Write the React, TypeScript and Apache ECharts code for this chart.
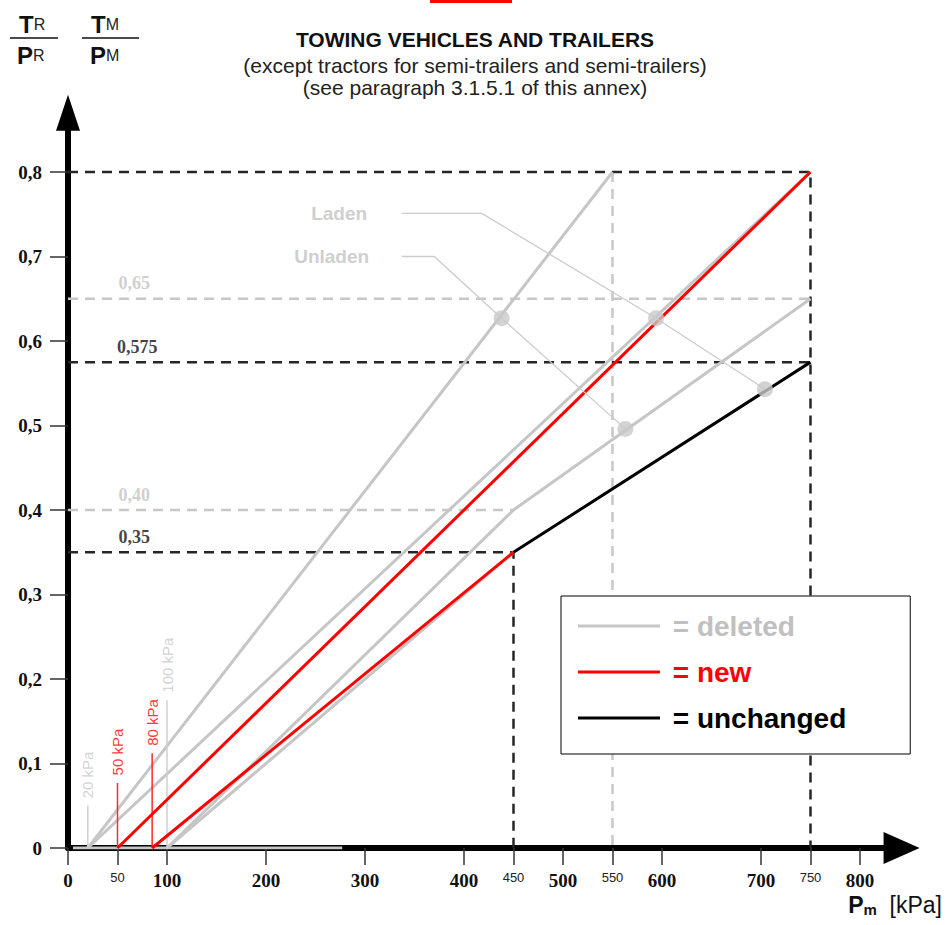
import React, { useEffect, useRef } from 'react';
import * as echarts from 'echarts';

// ---------- data ----------
const X_MAX = 842;
const Y_MAX = 0.87;
const yTicks = [0, 0.1, 0.2, 0.3, 0.4, 0.5, 0.6, 0.7, 0.8];
const xTicks = [0, 50, 100, 200, 300, 400, 450, 500, 550, 600, 700, 750, 800];
const minorXTicks = [50, 450, 550, 750];

const deletedLines = [
  [[20, 0], [550, 0.8]],
  [[20, 0], [750, 0.8]],
  [[100, 0], [450, 0.4], [750, 0.65]],
  [[100, 0], [450, 0.35]],
  [[5, 0], [277, 0]],
];
const newLines = [
  [[50, 0], [750, 0.8]],
  [[85, 0], [450, 0.35]],
];
const unchangedLines = [
  [[450, 0.35], [750, 0.575]],
];
const blackGuides = [
  [[0, 0.8], [750, 0.8], [750, 0]],
  [[0, 0.575], [750, 0.575]],
  [[0, 0.35], [450, 0.35], [450, 0]],
];
const grayGuides = [
  [[0, 0.65], [750, 0.65]],
  [[0, 0.4], [450, 0.4]],
  [[550, 0.8], [550, 0]],
];
const kpaMarks = [
  { x: 20, top: 0.05, label: '20 kPa', kind: 'deleted' },
  { x: 50, top: 0.077, label: '50 kPa', kind: 'new' },
  { x: 85, top: 0.112, label: '80 kPa', kind: 'new' },
  { x: 100, top: 0.175, label: '100 kPa', kind: 'deleted' },
];
const levelLabels = [
  { text: '0,65', x: 67, y: 0.65, kind: 'deleted' },
  { text: '0,575', x: 70, y: 0.575, kind: 'unchanged' },
  { text: '0,40', x: 67, y: 0.4, kind: 'deleted' },
  { text: '0,35', x: 67, y: 0.35, kind: 'unchanged' },
];
const ladenPath = [[337, 0.751], [418, 0.751], [594, 0.627], [704, 0.543]];
const unladenPath = [[337, 0.7], [370, 0.7], [438, 0.627], [563, 0.496]];
const ladenDots = [[594, 0.627], [704, 0.543]];
const unladenDots = [[438, 0.627], [563, 0.496]];
const legendNames = ['= deleted', '= new', '= unchanged'];

// ---------- styles ----------
const GRAY = '#c6c6c6';
const GRAY_TXT = '#c2c2c2';
const RED = '#ff0000';
const BLACK = '#000000';
const SANS = '"Liberation Sans", Arial, sans-serif';
const SERIF = '"Liberation Serif", "Times New Roman", serif';

function lineSeries(name: string, pts: number[][], color: string, width: number, dashed = false, z = 2) {
  return {
    type: 'line',
    name,
    data: pts,
    symbol: 'none',
    silent: true,
    z,
    itemStyle: { color },
    lineStyle: { color, width, type: dashed ? [10, 7] : 'solid' },
  };
}

const fracRich = {
  b: { fontFamily: SANS, fontSize: 24, fontWeight: 'bold', fill: '#111' },
  s: { fontFamily: SANS, fontSize: 16, fill: '#222' },
};

export default function App() {
  const ref = useRef<HTMLDivElement>(null);
  useEffect(() => {
    if (!ref.current) return;
    const chart = echarts.init(ref.current, undefined, { renderer: 'svg' });
    const series: any[] = [];
    grayGuides.forEach((g) => series.push(lineSeries('guide-gray', g, '#c8c8c8', 2.5, true, 1)));
    blackGuides.forEach((g) => series.push(lineSeries('guide-black', g, '#262626', 2.5, true, 1)));
    deletedLines.forEach((l) => series.push(lineSeries('= deleted', l, GRAY, 3, false, 2)));
    kpaMarks.forEach((m) =>
      series.push(lineSeries('kpa-' + m.label, [[m.x, 0], [m.x, m.top]], m.kind === 'new' ? '#ff2a2a' : '#cfcfcf', 1.5, false, 2))
    );
    newLines.forEach((l) => series.push(lineSeries('= new', l, RED, 3, false, 3)));
    unchangedLines.forEach((l) => series.push(lineSeries('= unchanged', l, BLACK, 3, false, 3)));
    series.push(lineSeries('laden', ladenPath, '#cccccc', 1.3, false, 4));
    series.push(lineSeries('unladen', unladenPath, '#cccccc', 1.3, false, 4));
    series.push({
      type: 'scatter',
      name: 'dots',
      silent: true,
      z: 5,
      symbolSize: 16,
      itemStyle: { color: '#c8c8c8' },
      data: [...ladenDots, ...unladenDots],
    });
    series.push({
      type: 'scatter',
      name: 'kpa-labels',
      silent: true,
      z: 6,
      symbolSize: 1,
      itemStyle: { color: 'rgba(0,0,0,0)' },
      data: kpaMarks.map((m) => ({
        value: [m.x, m.top],
        label: { formatter: m.label, color: m.kind === 'new' ? RED : '#c8c8c8' },
      })),
      label: {
        show: true,
        position: 'top',
        rotate: 90,
        align: 'left',
        verticalAlign: 'middle',
        distance: 7,
        fontSize: 15,
        fontFamily: SANS,
      },
    });
    series.push({
      type: 'scatter',
      name: 'level-labels',
      silent: true,
      z: 6,
      symbolSize: 1,
      itemStyle: { color: 'rgba(0,0,0,0)' },
      data: levelLabels.map((l) => ({
        value: [l.x, l.y],
        label: { formatter: l.text, color: l.kind === 'deleted' ? '#c4c4c4' : '#111' },
      })),
      label: {
        show: true,
        position: 'top',
        distance: 6,
        fontSize: 18,
        fontWeight: 'bold',
        fontFamily: SERIF,
      },
    });
    series.push({
      type: 'scatter',
      name: 'laden-labels',
      silent: true,
      z: 6,
      symbolSize: 1,
      itemStyle: { color: 'rgba(0,0,0,0)' },
      data: [
        { value: ladenPath[0], label: { formatter: 'Laden', distance: 34 } },
        { value: unladenPath[0], label: { formatter: 'Unladen', distance: 32 } },
      ],
      label: {
        show: true,
        position: 'left',
        fontSize: 19,
        fontWeight: 'bold',
        fontFamily: SANS,
        color: GRAY_TXT,
      },
    });

    const option: any = {
      animation: false,
      backgroundColor: '#ffffff',
      title: {
        text: 'TOWING VEHICLES AND TRAILERS',
        subtext: '(except tractors for semi-trailers and semi-trailers)\n(see paragraph 3.1.5.1 of this annex)',
        left: 470,
        textAlign: 'center',
        top: 23,
        itemGap: 4,
        textStyle: { fontFamily: SANS, fontSize: 21, fontWeight: 'bold', color: '#111', lineHeight: 22 },
        subtextStyle: { fontFamily: SANS, fontSize: 21, color: '#222', lineHeight: 22 },
      },
      legend: {
        data: [
          { name: legendNames[0], textStyle: { color: '#c0c0c0' } },
          { name: legendNames[1], textStyle: { color: RED } },
          { name: legendNames[2], textStyle: { color: '#000' } },
        ],
        formatter: (name: string) => ' ' + name,
        orient: 'vertical',
        left: 561,
        top: 596,
        icon: 'path://M0,0 L82,0 L82,3 L0,3 Z',
        itemWidth: 82,
        itemHeight: 3,
        itemGap: 18,
        itemTextGap: 5,
        padding: [16, 64, 22, 17],
        borderColor: '#000',
        borderWidth: 1,
        backgroundColor: '#fff',
        selectedMode: false,
        textStyle: { fontFamily: SANS, fontSize: 28, fontWeight: 'bold', lineHeight: 26 },
      },
      grid: {
        left: 68,
        top: 848 - Y_MAX * 845,
        width: X_MAX * 0.99,
        height: Y_MAX * 845,
      },
      xAxis: {
        type: 'value',
        min: 0,
        max: X_MAX,
        splitLine: { show: false },
        axisLine: {
          show: true,
          onZero: false,
          lineStyle: { color: '#000', width: 6 },
          symbol: ['none', 'triangle'],
          symbolSize: [32, 36],
        },
        axisTick: {
          show: true,
          customValues: xTicks,
          length: 17,
          lineStyle: { color: '#333', width: 1.5 },
        },
        axisLabel: {
          show: true,
          customValues: xTicks,
          margin: 23,
          formatter: (v: number) => (minorXTicks.includes(v) ? '{s|' + v + '}' : '{b|' + v + '}'),
          rich: {
            s: { fontFamily: SANS, fontSize: 13, color: '#222' },
            b: { fontFamily: SERIF, fontSize: 19, fontWeight: 'bold', color: '#111' },
          },
        },
      },
      yAxis: {
        type: 'value',
        min: 0,
        max: Y_MAX,
        splitLine: { show: false },
        axisLine: {
          show: true,
          lineStyle: { color: '#000', width: 6 },
          symbol: ['none', 'triangle'],
          symbolSize: [24, 36],
        },
        axisTick: {
          show: true,
          customValues: yTicks,
          length: 18,
          lineStyle: { color: '#333', width: 1.5 },
        },
        axisLabel: {
          show: true,
          customValues: yTicks,
          margin: 26,
          fontFamily: SERIF,
          fontSize: 19,
          fontWeight: 'bold',
          color: '#111',
          formatter: (v: number) => (v === 0 ? '0' : v.toFixed(1).replace('.', ',')),
        },
      },
      graphic: [
        { type: 'rect', shape: { x: 430, y: 0, width: 82, height: 3 }, style: { fill: RED }, silent: true },
        { type: 'text', x: 19, y: 24, style: { text: '{b|T}{s|R}', verticalAlign: 'middle', rich: fracRich } },
        { type: 'line', shape: { x1: 10, y1: 38, x2: 58, y2: 38 }, style: { stroke: '#111', lineWidth: 1.5 } },
        { type: 'text', x: 17, y: 55, style: { text: '{b|P}{s|R}', verticalAlign: 'middle', rich: fracRich } },
        { type: 'text', x: 91, y: 24, style: { text: '{b|T}{s|M}', verticalAlign: 'middle', rich: fracRich } },
        { type: 'line', shape: { x1: 82, y1: 38, x2: 139, y2: 38 }, style: { stroke: '#111', lineWidth: 1.5 } },
        { type: 'text', x: 90, y: 55, style: { text: '{b|P}{s|M}', verticalAlign: 'middle', rich: fracRich } },
        {
          type: 'text', x: 942, y: 905,
          style: {
            text: '{b|P}{s|m}{n|  [kPa]}', align: 'right', verticalAlign: 'middle',
            rich: {
              b: { fontFamily: SANS, fontSize: 23, fontWeight: 'bold', fill: '#111', verticalAlign: 'bottom' },
              s: { fontFamily: SANS, fontSize: 15, fontWeight: 'bold', fill: '#111', verticalAlign: 'bottom' },
              n: { fontFamily: SANS, fontSize: 23, fill: '#111', verticalAlign: 'bottom' },
            },
          },
        },
      ],
      series,
    };
    chart.setOption(option);
    return () => chart.dispose();
  }, []);
  return (
    <div
      ref={ref}
      style={{ position: 'fixed', left: 0, top: 0, width: 948, height: 925, background: '#fff' }}
    />
  );
}
